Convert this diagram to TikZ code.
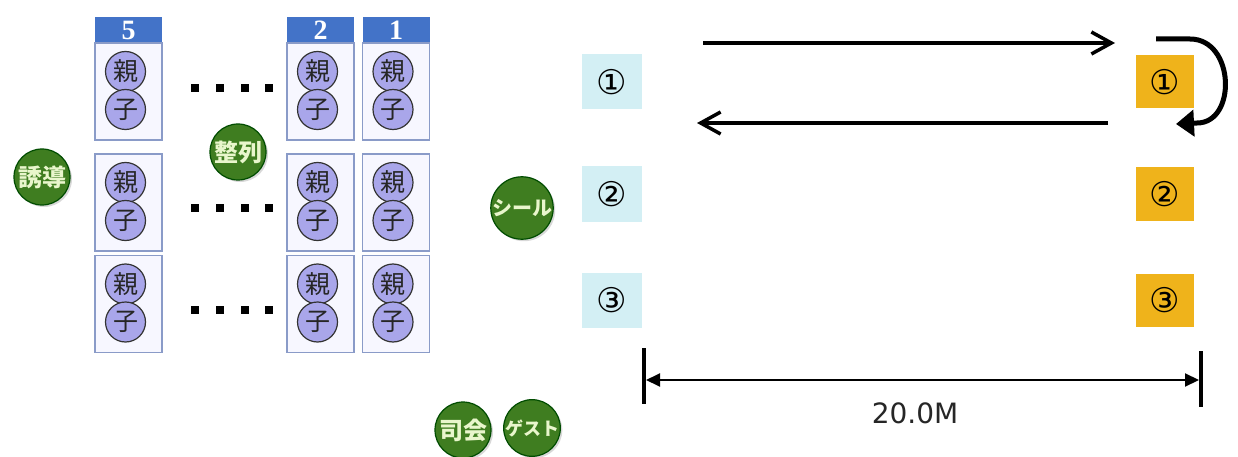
\documentclass[tikz,border=0pt]{standalone}
\usepackage{fontspec}
\newfontfamily\jpfont{Noto Sans CJK JP}
\newfontfamily\symfont{DejaVu Sans}
\newfontfamily\numfont{Liberation Serif}
\usetikzlibrary{arrows.meta, shadows, positioning}
\definecolor{Lavender}{HTML}{A9A6EA}
\definecolor{LeafGreen}{HTML}{3F7D20}
\definecolor{HeadBlue}{HTML}{4373C8}
\definecolor{PaleCyan}{HTML}{D3EFF4}
\definecolor{Amber}{HTML}{EFB31B}
\definecolor{FrameBlue}{HTML}{8A9BC8}
\definecolor{PaleLeaf}{HTML}{E9F6CC}

\begin{document}
\begin{tikzpicture}[x=1pt, y=-1pt,
		pair/.style={draw=FrameBlue, line width=1.2pt, fill=blue!3, minimum width=67pt, minimum height=97pt, inner sep=0pt},
		head/.style={fill=HeadBlue, minimum width=67pt, minimum height=26pt, inner sep=0pt, text=white, font=\numfont\bfseries\fontsize{28}{28}\selectfont},
		kid/.style={circle, draw=black!80, line width=1.2pt, fill=Lavender, minimum size=40pt, inner sep=0pt, text=black!85, font=\jpfont\fontsize{25}{25}\selectfont},
		staff/.style={circle, draw=black!70!green, line width=1.2pt, fill=LeafGreen, minimum size=56pt, inner sep=0pt, text=PaleLeaf, font=\jpfont\bfseries\fontsize{24}{24}\selectfont, drop shadow={shadow xshift=2pt, shadow yshift=-2pt, opacity=0.3}},
		gate/.style={minimum width=60pt, minimum height=55pt, inner sep=0pt, font=\symfont\fontsize{34}{34}\selectfont},
		run/.style={line width=3.5pt, -{Straight Barb[length=20pt, width=22pt, line width=3.5pt]}},
		turn/.style={line width=5pt, -{Triangle[length=18pt, width=26pt]}},
		span/.style={line width=2pt, {Triangle[length=14pt, width=13pt]}-{Triangle[length=14pt, width=13pt]}, shorten <=2pt, shorten >=2pt},
		bar/.style={line width=4pt},
	]
	\path[fill=white, use as bounding box] (0,0) rectangle (1238,457);

	% rows of parent and child
	\foreach \c/\x in {5/128.5, 2/320.5, 1/396} {
		\node[head] (h\c) at (\x,30) {\c};
		\foreach \r/\y in {1/91.5, 2/202.5, 3/304} {
			\node[pair] (b\c\r) at (\x,\y) {};
			\node[kid] (o\c\r) at ([xshift=-3pt, yshift=20pt]b\c\r.center) {親};
			\node[kid] (k\c\r) at ([xshift=-3pt, yshift=-18pt]b\c\r.center) {子};
		}
	}
	\foreach \y in {88, 208, 310}
		\foreach \x in {195, 220, 245, 269}
			\fill (\x-4,\y-4) rectangle ++(8,8);

	\node[staff] (lead) at (42,177) {誘導};
	\node[staff] (line) at (238,152) {整列};
	\node[staff, minimum size=58pt, font=\jpfont\bfseries\fontsize{20}{20}\selectfont] (seal) at (522,208) {シール};
	\node[staff] (host) at (463,430) {司会};
	\node[staff, font=\jpfont\bfseries\fontsize{18}{18}\selectfont] (guest) at (532,428) {ゲスト};

	% start and turning points
	\node[gate, fill=PaleCyan] (s1) at (612,82) {①};
	\node[gate, fill=PaleCyan] (s2) at (612,194) {②};
	\node[gate, fill=PaleCyan] (s3) at (612,300) {③};
	\node[gate, fill=Amber, minimum width=58pt, minimum height=53pt] (t1) at (1165,82) {①};
	\node[gate, fill=Amber, minimum width=58pt, minimum height=53pt] (t2) at (1165,194) {②};
	\node[gate, fill=Amber, minimum width=58pt, minimum height=53pt] (t3) at (1165,300) {③};

	\coordinate (go0) at (703,43);
	\coordinate (go1) at (1115,43);
	\coordinate (back0) at (1108,123);
	\coordinate (back1) at (697,123);
	\coordinate (u0) at (1156,39);
	\coordinate (u1) at (1176,124);
	\draw[run] (go0) -- (go1);
	\draw[run] (back0) -- (back1);
	\draw[turn] (u0) -- (1190,39) .. controls +(45,0) and +(40,0) .. (1197,123) -- (u1);

	% distance
	\coordinate (d0t) at (644,348);
	\coordinate (d0b) at (644,404);
	\coordinate (d1t) at (1201,351);
	\coordinate (d1b) at (1201,407);
	\coordinate (d0) at (644,380);
	\coordinate (d1) at (1201,380);
	\draw[bar] (d0t) -- (d0b);
	\draw[bar] (d1t) -- (d1b);
	\draw[span] (d0) -- (d1);
	\node[font=\symfont\fontsize{28}{28}\selectfont, text=black!85] (len) at (915,413) {20.0M};
\end{tikzpicture}
\end{document}
